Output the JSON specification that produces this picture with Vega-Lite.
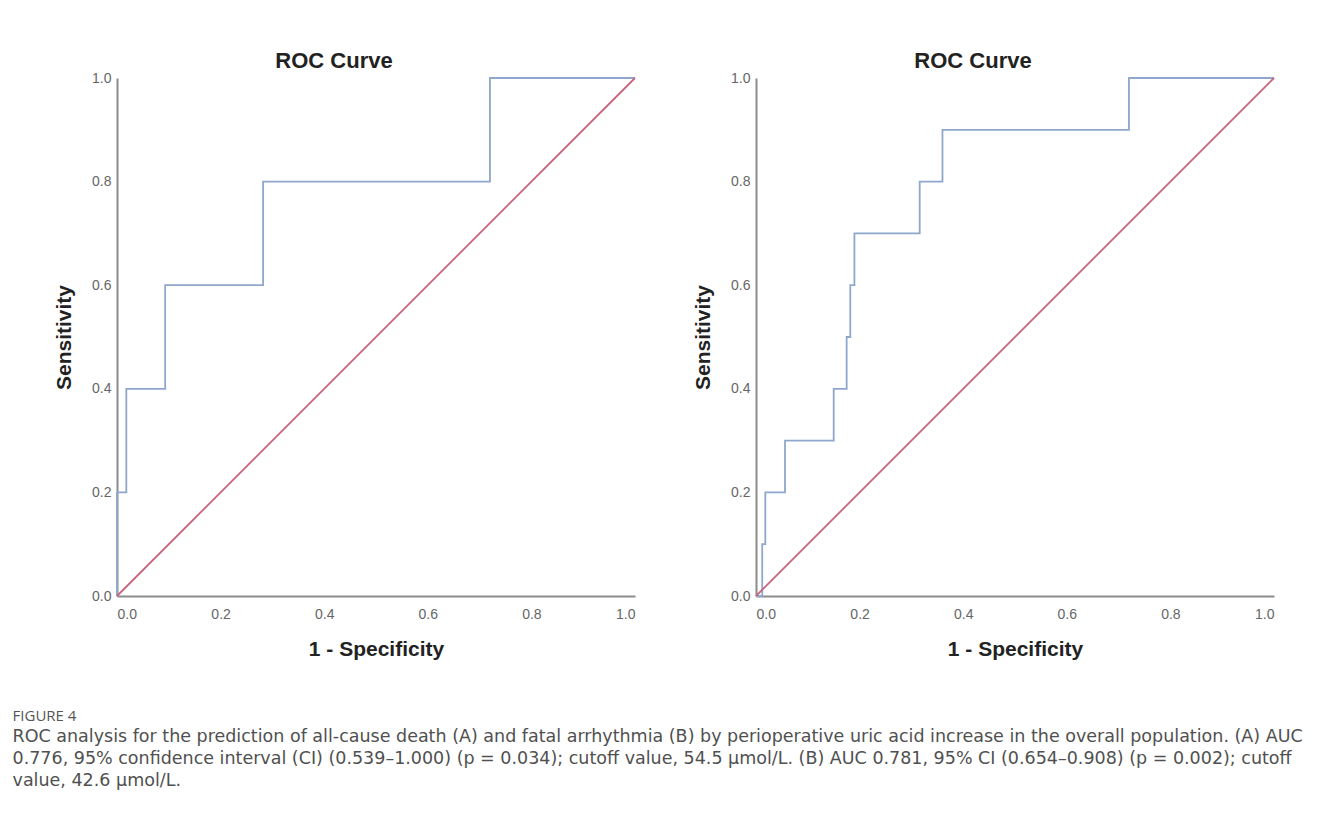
{
  "$schema": "https://vega.github.io/schema/vega-lite/v6.json",
  "background": "white",
  "padding": {"left": 12, "top": 50, "right": 10, "bottom": 10},
  "config": {
    "view": {"stroke": null},
    "font": "Liberation Sans",
    "axis": {
      "domainColor": "#8c8c8c",
      "domainWidth": 2,
      "ticks": false,
      "grid": false,
      "labelColor": "#666666",
      "labelFontSize": 14,
      "labelFont": "Liberation Sans",
      "titleFont": "Liberation Sans",
      "titleFontSize": 21,
      "titleFontWeight": "bold",
      "titleColor": "#222222"
    }
  },
  "datasets": {
    "rocA": [
      {"step": 0, "fpr": 0.0, "tpr": 0.0},
      {"step": 1, "fpr": 0.0, "tpr": 0.2},
      {"step": 2, "fpr": 0.018, "tpr": 0.2},
      {"step": 3, "fpr": 0.018, "tpr": 0.4},
      {"step": 4, "fpr": 0.093, "tpr": 0.4},
      {"step": 5, "fpr": 0.093, "tpr": 0.6},
      {"step": 6, "fpr": 0.282, "tpr": 0.6},
      {"step": 7, "fpr": 0.282, "tpr": 0.8},
      {"step": 8, "fpr": 0.72, "tpr": 0.8},
      {"step": 9, "fpr": 0.72, "tpr": 1.0},
      {"step": 10, "fpr": 1.0, "tpr": 1.0}
    ],
    "rocB": [
      {"step": 0, "fpr": 0.0, "tpr": 0.0},
      {"step": 1, "fpr": 0.012, "tpr": 0.0},
      {"step": 2, "fpr": 0.012, "tpr": 0.1},
      {"step": 3, "fpr": 0.018, "tpr": 0.1},
      {"step": 4, "fpr": 0.018, "tpr": 0.2},
      {"step": 5, "fpr": 0.056, "tpr": 0.2},
      {"step": 6, "fpr": 0.056, "tpr": 0.3},
      {"step": 7, "fpr": 0.15, "tpr": 0.3},
      {"step": 8, "fpr": 0.15, "tpr": 0.4},
      {"step": 9, "fpr": 0.175, "tpr": 0.4},
      {"step": 10, "fpr": 0.175, "tpr": 0.5},
      {"step": 11, "fpr": 0.182, "tpr": 0.5},
      {"step": 12, "fpr": 0.182, "tpr": 0.6},
      {"step": 13, "fpr": 0.19, "tpr": 0.6},
      {"step": 14, "fpr": 0.19, "tpr": 0.7},
      {"step": 15, "fpr": 0.316, "tpr": 0.7},
      {"step": 16, "fpr": 0.316, "tpr": 0.8},
      {"step": 17, "fpr": 0.36, "tpr": 0.8},
      {"step": 18, "fpr": 0.36, "tpr": 0.9},
      {"step": 19, "fpr": 0.72, "tpr": 0.9},
      {"step": 20, "fpr": 0.72, "tpr": 1.0},
      {"step": 21, "fpr": 1.0, "tpr": 1.0}
    ],
    "diag": [
      {"fpr": 0, "tpr": 0},
      {"fpr": 1, "tpr": 1}
    ]
  },
  "title": {
    "text": "FIGURE 4",
    "subtitle": [
      "ROC analysis for the prediction of all-cause death (A) and fatal arrhythmia (B) by perioperative uric acid increase in the overall population. (A) AUC",
      "0.776, 95% confidence interval (CI) (0.539–1.000) (p = 0.034); cutoff value, 54.5 μmol/L. (B) AUC 0.781, 95% CI (0.654–0.908) (p = 0.002); cutoff",
      "value, 42.6 μmol/L."
    ],
    "orient": "bottom",
    "anchor": "start",
    "frame": "bounds",
    "dx": -41,
    "offset": 50,
    "font": "Open Sans",
    "fontSize": 15,
    "fontWeight": "normal",
    "color": "#555555",
    "subtitleFont": "DejaVu Sans",
    "subtitleFontSize": 17.5,
    "subtitleColor": "#505050",
    "subtitleLineHeight": 22,
    "subtitlePadding": 4
  },
  "spacing": 53,
  "hconcat": [
    {
      "width": 518,
      "height": 518,
      "title": {"text": "ROC Curve", "fontSize": 22, "fontWeight": "bold", "color": "#222222", "dx": -42, "offset": -2, "font": "Liberation Sans"},
      "layer": [
        {
          "data": {"name": "rocA"},
          "mark": {"type": "line", "color": "#8fa7cc", "strokeWidth": 1.8},
          "encoding": {
            "x": {"field": "fpr", "type": "quantitative", "scale": {"domain": [0, 1]},
                  "axis": {"title": "1 - Specificity", "values": [0, 0.2, 0.4, 0.6, 0.8, 1.0], "format": ".1f", "labelPadding": 11, "titlePadding": 17}},
            "y": {"field": "tpr", "type": "quantitative", "scale": {"domain": [0, 1]},
                  "axis": {"title": "Sensitivity", "values": [0, 0.2, 0.4, 0.6, 0.8, 1.0], "format": ".1f", "labelPadding": 6, "titlePadding": 17}},
            "order": {"field": "step"}
          }
        },
        {
          "data": {"name": "diag"},
          "mark": {"type": "line", "color": "#c9647e", "strokeWidth": 1.8},
          "encoding": {
            "x": {"field": "fpr", "type": "quantitative"},
            "y": {"field": "tpr", "type": "quantitative"}
          }
        }
      ]
    },
    {
      "width": 518,
      "height": 518,
      "title": {"text": "ROC Curve", "fontSize": 22, "fontWeight": "bold", "color": "#222222", "dx": -42, "offset": -2, "font": "Liberation Sans"},
      "layer": [
        {
          "data": {"name": "rocB"},
          "mark": {"type": "line", "color": "#8fa7cc", "strokeWidth": 1.8},
          "encoding": {
            "x": {"field": "fpr", "type": "quantitative", "scale": {"domain": [0, 1]},
                  "axis": {"title": "1 - Specificity", "values": [0, 0.2, 0.4, 0.6, 0.8, 1.0], "format": ".1f", "labelPadding": 11, "titlePadding": 17}},
            "y": {"field": "tpr", "type": "quantitative", "scale": {"domain": [0, 1]},
                  "axis": {"title": "Sensitivity", "values": [0, 0.2, 0.4, 0.6, 0.8, 1.0], "format": ".1f", "labelPadding": 6, "titlePadding": 17}},
            "order": {"field": "step"}
          }
        },
        {
          "data": {"name": "diag"},
          "mark": {"type": "line", "color": "#c9647e", "strokeWidth": 1.8},
          "encoding": {
            "x": {"field": "fpr", "type": "quantitative"},
            "y": {"field": "tpr", "type": "quantitative"}
          }
        }
      ]
    }
  ]
}
